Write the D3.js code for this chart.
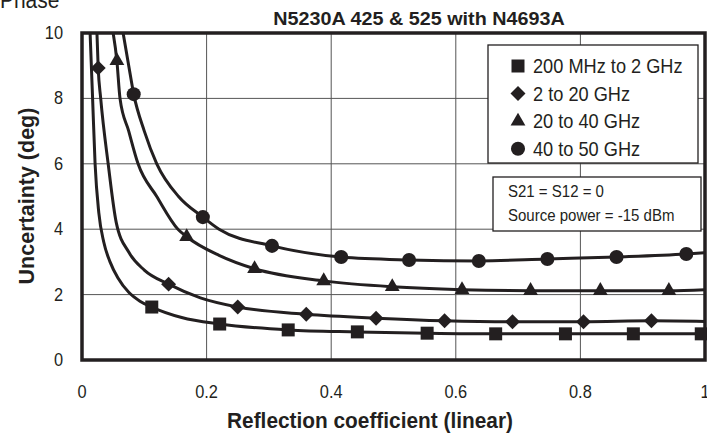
<!doctype html>
<html lang="en">
<head>
  <meta charset="utf-8">
  <script src="https://d3js.org/d3.v7.min.js"></script>
  <title>Phase uncertainty</title>
  <style type="text/css">
    html, body { margin: 0; padding: 0; background: #fff; }
    svg { display: block; }
    text { font-family: "Liberation Sans", Arial, sans-serif; fill: #231f20; }
  </style>
</head>
<body>
<script>
  // reflection coefficient vs phase uncertainty (deg)
  var seriesNames = ["200 MHz to 2 GHz", "2 to 20 GHz", "20 to 40 GHz", "40 to 50 GHz"];
  var xTicks = [0, 0.2, 0.4, 0.6, 0.8, 1];
  var yTicks = [0, 2, 4, 6, 8, 10];

  // curve points [x, y]
  var squareCurve = [[0.013, 10], [0.017, 8], [0.021, 6], [0.027, 4.5], [0.035, 3.6], [0.045, 3.0], [0.058, 2.5],
    [0.075, 2.07], [0.093, 1.8], [0.112, 1.62], [0.16, 1.3], [0.221, 1.1], [0.331, 0.92], [0.442, 0.86],
    [0.554, 0.82], [0.664, 0.8], [0.776, 0.8], [0.885, 0.8], [1.0, 0.8]];
  var diamondCurve = [[0.024, 10], [0.026, 8.93], [0.03, 8], [0.042, 6], [0.055, 4.2], [0.075, 3.3], [0.1, 2.75],
    [0.139, 2.32], [0.19, 1.9], [0.25, 1.62], [0.36, 1.4], [0.472, 1.28], [0.582, 1.2], [0.691, 1.17],
    [0.805, 1.17], [0.914, 1.2], [1.0, 1.18]];
  var triangleCurve = [[0.05, 10], [0.056, 9.15], [0.061, 8], [0.075, 7], [0.09, 6], [0.12, 5], [0.154, 4],
    [0.168, 3.77], [0.22, 3.2], [0.277, 2.79], [0.388, 2.42], [0.498, 2.24], [0.61, 2.15], [0.72, 2.12],
    [0.832, 2.12], [0.942, 2.12], [1.0, 2.15]];
  var circleCurve = [[0.066, 10], [0.075, 9], [0.083, 8.13], [0.1, 7.0], [0.12, 6], [0.155, 5], [0.194, 4.37],
    [0.22, 4.0], [0.305, 3.49], [0.416, 3.15], [0.525, 3.06], [0.637, 3.03], [0.747, 3.09], [0.858, 3.15],
    [0.97, 3.24], [1.0, 3.28]];

  // marker points [x, y]
  var squareMarks = [[0.112, 1.62], [0.221, 1.1], [0.331, 0.92], [0.442, 0.86], [0.554, 0.82], [0.664, 0.8],
    [0.776, 0.8], [0.885, 0.8], [0.994, 0.8]];
  var diamondMarks = [[0.026, 8.93], [0.139, 2.32], [0.25, 1.62], [0.36, 1.4], [0.472, 1.28], [0.582, 1.2],
    [0.691, 1.17], [0.805, 1.17], [0.914, 1.2]];
  var triangleMarks = [[0.056, 9.15], [0.168, 3.77], [0.277, 2.79], [0.388, 2.42], [0.498, 2.24], [0.61, 2.15],
    [0.72, 2.12], [0.832, 2.12], [0.942, 2.12]];
  var circleMarks = [[0.083, 8.13], [0.194, 4.37], [0.305, 3.49], [0.416, 3.15], [0.525, 3.06], [0.637, 3.03],
    [0.747, 3.09], [0.858, 3.15], [0.97, 3.24]];

  var width = 707, height = 438;
  var ink = "#231f20";

  var svg = d3.select("body").append("svg")
    .attr("width", width)
    .attr("height", height);

  var x = d3.scaleLinear().domain([0, 1]).range([82, 705]);
  var y = d3.scaleLinear().domain([0, 10]).range([360, 33]);

  // text helper, squeezed a little to look like the condensed face
  function label(g, tx, ty, str, size, opts) {
    opts = opts || {};
    var squeeze = opts.squeeze || (opts.bold ? 0.97 : 0.91);
    var rot = opts.rotate ? " rotate(" + opts.rotate + ")" : "";
    return g.append("text")
      .attr("transform", "translate(" + tx + "," + ty + ")" + rot + " scale(" + squeeze + ",1)")
      .attr("text-anchor", opts.anchor || "start")
      .style("font-size", size + "px")
      .style("font-weight", opts.bold ? "bold" : "normal")
      .text(str);
  }

  // symbols: square, diamond (rotated square), triangle, circle
  var symbols = [
    { type: d3.symbolSquare, size: 169, rot: 0 },
    { type: d3.symbolSquare, size: 112, rot: 45 },
    { type: d3.symbolTriangle, size: 95, rot: 0 },
    { type: d3.symbolCircle, size: 155, rot: 0 }
  ];
  var curves = [squareCurve, diamondCurve, triangleCurve, circleCurve];
  var marks = [squareMarks, diamondMarks, triangleMarks, circleMarks];

  // clip for the plot area
  svg.append("clipPath").attr("id", "plot")
    .append("rect")
    .attr("x", x(0)).attr("y", y(10))
    .attr("width", x(1) - x(0)).attr("height", y(0) - y(10));

  // gridlines
  var grid = svg.append("g").attr("stroke", "#555").attr("stroke-width", 1);
  grid.selectAll(".vx").data(xTicks.slice(1, -1)).enter().append("line")
    .attr("x1", d => x(d)).attr("x2", d => x(d))
    .attr("y1", y(0)).attr("y2", y(10));
  grid.selectAll(".hy").data(yTicks.slice(1, -1)).enter().append("line")
    .attr("x1", x(0)).attr("x2", x(1))
    .attr("y1", d => y(d)).attr("y2", d => y(d));

  // curves
  var line = d3.line()
    .x(d => x(d[0]))
    .y(d => y(d[1]))
    .curve(d3.curveMonotoneX);

  var plot = svg.append("g").attr("clip-path", "url(#plot)");
  plot.selectAll("path.curve").data(curves).enter().append("path")
    .attr("class", "curve")
    .attr("d", line)
    .attr("fill", "none")
    .attr("stroke", ink)
    .attr("stroke-width", 3);

  // markers
  marks.forEach(function(pts, i) {
    var s = symbols[i];
    svg.append("g").selectAll("path").data(pts).enter().append("path")
      .attr("d", d3.symbol().type(s.type).size(s.size))
      .attr("transform", d => "translate(" + x(d[0]) + "," + y(d[1]) + ") rotate(" + s.rot + ")")
      .attr("fill", ink);
  });

  // legend box
  var leg = svg.append("g");
  leg.append("rect")
    .attr("x", 488).attr("y", 45).attr("width", 210).attr("height", 118)
    .attr("fill", "#fff").attr("stroke", ink).attr("stroke-width", 1.3);
  seriesNames.forEach(function(name, i) {
    var s = symbols[i];
    var yy = 66 + i * 27.6;
    leg.append("path")
      .attr("d", d3.symbol().type(s.type).size(s.size))
      .attr("transform", "translate(518," + yy + ") rotate(" + s.rot + ")")
      .attr("fill", ink);
    label(leg, 533, yy + 7, name, 20);
  });

  // conditions box
  var cond = svg.append("g");
  cond.append("rect")
    .attr("x", 493).attr("y", 177).attr("width", 208).attr("height", 54)
    .attr("fill", "#fff").attr("stroke", ink).attr("stroke-width", 1.3);
  label(cond, 508, 197, "S21 = S12 = 0", 16.5);
  label(cond, 508, 221, "Source power = -15 dBm", 16.5);

  // plot border
  svg.append("rect")
    .attr("x", x(0)).attr("y", y(10))
    .attr("width", x(1) - x(0)).attr("height", y(0) - y(10))
    .attr("fill", "none").attr("stroke", ink).attr("stroke-width", 3.5);

  // tick labels
  var ty = svg.append("g");
  yTicks.forEach(d => label(ty, 63, y(d) + 6, d, 18, { anchor: "end" }));
  var tx = svg.append("g");
  xTicks.forEach(d => label(tx, x(d), 398, d, 18, { anchor: "middle" }));

  // titles
  label(svg, 0, 8, "Phase", 23);
  label(svg, 419, 25, "N5230A 425 & 525 with N4693A", 17.5, { anchor: "middle", bold: true, squeeze: 1.13 });
  label(svg, 370, 428, "Reflection coefficient (linear)", 21.5, { anchor: "middle", bold: true });
  label(svg, 34, 196, "Uncertainty (deg)", 21.5, { anchor: "middle", bold: true, rotate: -90, squeeze: 1.0 });
</script>
</body>
</html>
